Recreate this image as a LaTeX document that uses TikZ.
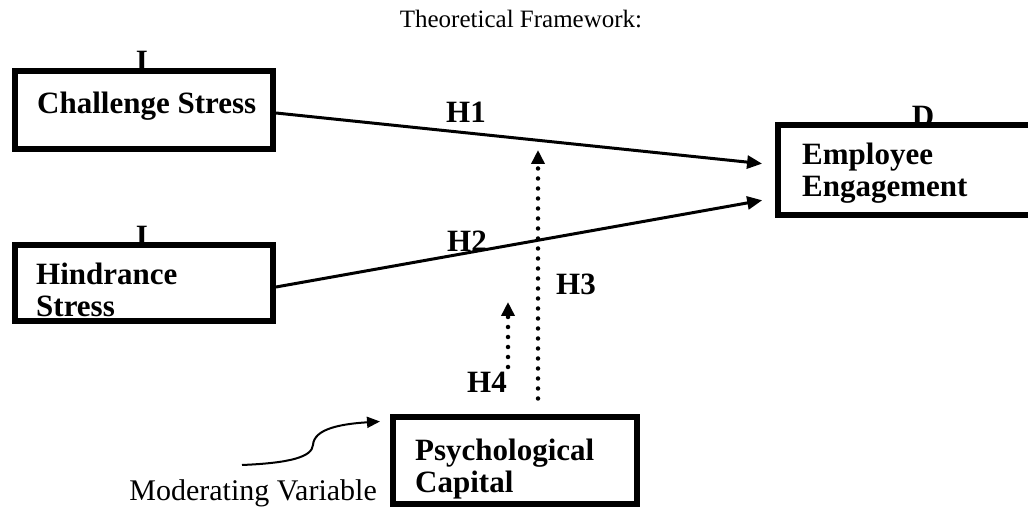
\documentclass[tikz,border=0pt]{standalone}
\usepackage{fontspec}
\setmainfont{Liberation Serif}[BoldFont={Liberation Serif Bold}]
\usetikzlibrary{arrows.meta, positioning}

\newcommand{\varfont}{\fontsize{31}{32}\selectfont\bfseries}

\begin{document}
\begin{tikzpicture}[x=1pt, y=1pt,
    varbox/.style={draw, line width=6pt, inner sep=0pt},
    vartext/.style={inner sep=0pt, align=left, font=\varfont},
    hyp/.style={inner sep=0pt, font=\varfont},
    path/.style={line width=3pt, -{Triangle[length=15pt, width=13pt]}, shorten >=13pt},
    dots/.style={line width=4.5pt, line cap=round, dash pattern=on 0pt off 10pt,
        -{Triangle[length=14pt, width=13pt]}}]
    \useasboundingbox (0,0) rectangle (1028,509);

    \node [font=\fontsize{25}{26}\selectfont, anchor=base] (title) at (521,481) {Theoretical Framework:};

    \node [varbox, minimum width=258pt, minimum height=78pt] (cs) at (144,399) {};
    \node [varbox, minimum width=258pt, minimum height=76pt] (hs) at (144,226) {};
    \node [varbox, minimum width=264pt, minimum height=90pt] (ee) at (910,339) {};
    \node [varbox, minimum width=244pt, minimum height=87pt] (pc) at (515,49) {};

    % two-line texts sit on the baseline of their last line
    \node [vartext, anchor=base west] (cstext) at (37,395) {Challenge Stress};
    \node [vartext, anchor=base west] (hstext) at (36,192) {Hindrance\\Stress};
    \node [vartext, anchor=base west] (eetext) at (802,312) {Employee\\Engagement};
    \node [vartext, anchor=base west] (pctext) at (415,17) {Psychological\\Capital};

    \node [hyp, anchor=base] (csI) at (142,437) {I};
    \node [hyp, anchor=base] (hsI) at (142,262) {I};
    \node [hyp, anchor=base] (eeD) at (923,382) {D};

    \draw [path] ([yshift=-3pt]cs.east) -- ([yshift=5pt]ee.west);
    \draw [path] ([yshift=-4pt]hs.east) -- ([yshift=-28pt]ee.west);
    \node [hyp, anchor=base] (h1) at (466,386) {H1};
    \node [hyp, anchor=base] (h2) at (467,257) {H2};

    \coordinate (h3end) at (538,359);
    \coordinate (h4start) at (508,142);
    \coordinate (h4end) at (508,207);
    \draw [dots] ([xshift=23pt, yshift=15pt]pc.north) -- (h3end);
    \draw [dots] (h4start) -- (h4end);
    \node [hyp, anchor=base] (h3) at (576,214) {H3};
    \node [hyp, anchor=base] (h4) at (487,117) {H4};

    \node [font=\fontsize{30}{31}\selectfont, inner sep=0pt, anchor=base east] (mod) at (377,9) {Moderating Variable};
    \coordinate (modstart) at (242,44);
    \draw [line width=2pt, -{Triangle[length=13pt, width=11pt]}] (modstart)
        .. controls (290,46) and (312,52) .. (313,64)
        .. controls (314,80) and (340,85) .. ([xshift=-10pt, yshift=-8pt]pc.north west);
\end{tikzpicture}
\end{document}
